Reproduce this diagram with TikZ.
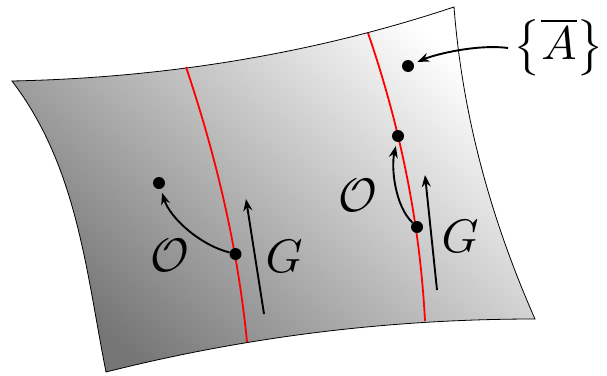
\documentclass[tikz,border=0pt]{standalone}
\usetikzlibrary{arrows.meta}
\begin{document}
\begin{tikzpicture}[x=1pt,y=-1pt,
  surf/.style={draw=black, line width=0.8pt, top color=white, bottom color=black!54, shading angle=-42},
  redline/.style={red, line width=1.8pt},
  dot/.style={circle, fill=black, inner sep=0pt, minimum size=12pt},
  arr/.style={line width=1.9pt, -{Stealth[length=12pt,width=9pt,inset=4pt]}},
  lab/.style={scale=4.7, inner sep=0pt}]
\useasboundingbox (0,0) rectangle (607,375);
% surface
\path[surf] (12,81) .. controls (160,78) and (310,55) .. (454,7)
  .. controls (462,111) and (489,215) .. (535,319)
  .. controls (392,319) and (249,336) .. (106,372)
  .. controls (86,271) and (77.5,167) .. cycle;
% red lines
\coordinate (r1t) at (186,67); \coordinate (r1b) at (247,342);
\coordinate (r2t) at (368,33); \coordinate (r2b) at (425,321);
\draw[redline] (r1t) .. controls (217,159) and (238,250) .. (r1b);
\draw[redline] (r2t) .. controls (401,129) and (420,225) .. (r2b);
% dots
\node[dot] (D1) at (159,183) {};
\node[dot] (D2) at (235.5,254) {};
\node[dot] (D3) at (398,136) {};
\node[dot] (D4) at (417,227) {};
\node[dot] (D5) at (408,66) {};
% labels
\node[lab] (O1) at (170,255) {$\mathcal{O}$};
\node[lab] (G1) at (284,256) {$G$};
\node[lab] (O2) at (358,195) {$\mathcal{O}$};
\node[lab] (G2) at (460,236) {$G$};
\node[lab] (Alab) at (559,47) {$\bigl\{\overline{A}\bigr\}$};
% arrows
\draw[arr, shorten >=4pt] (D2) .. controls (200,245) and (170,218) .. (D1);
\draw[arr, shorten >=4pt] (D4) .. controls (395,206) and (391,168) .. (D3);
\coordinate (g1s) at (264,314); \coordinate (g1e) at (246,199);
\coordinate (g2s) at (437,290); \coordinate (g2e) at (425,175);
\draw[arr] (g1s) -- (g1e);
\draw[arr] (g2s) -- (g2e);
\coordinate (as) at (508,48);
\draw[arr, shorten >=4pt] (as) .. controls (478,44) and (436,54) .. (D5);
\end{tikzpicture}
\end{document}
